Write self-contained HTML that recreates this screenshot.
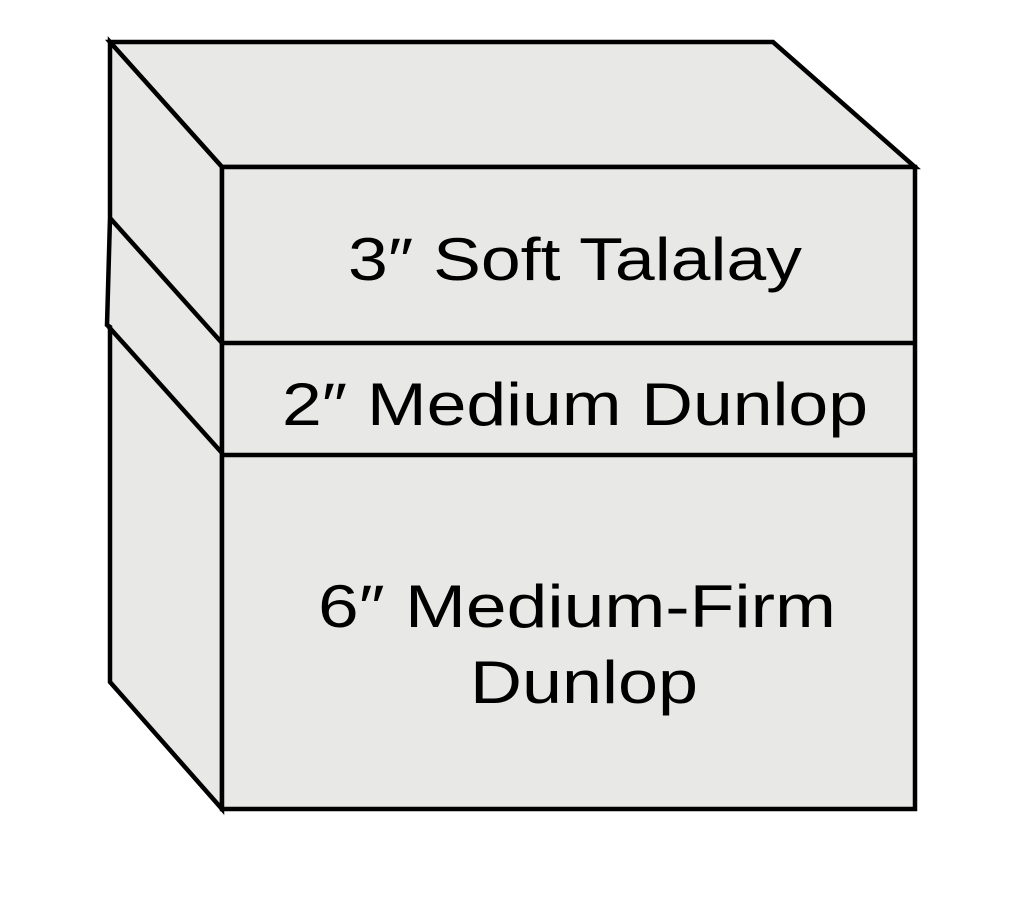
<!DOCTYPE html>
<html><head><style>html,body{margin:0;padding:0;background:#fff;}svg{display:block;}</style></head>
<body>
<svg width="1024" height="900" viewBox="0 0 1024 900" xmlns="http://www.w3.org/2000/svg">
<g fill="#e8e8e7" stroke="#000" stroke-width="4.5" stroke-linejoin="miter">
<polygon points="110,42 773,42 915,167 222,167"/>
<polygon points="110,42 222,167 222,809 110,682 110,327 107,325 110,218"/>
<rect x="222" y="167" width="693" height="642"/>
<line x1="222" y1="343" x2="915" y2="343"/>
<line x1="222" y1="455" x2="915" y2="455"/>
<line x1="110" y1="218" x2="222" y2="343"/>
<line x1="108" y1="326" x2="222" y2="453"/>
</g>
<g font-family="'Liberation Sans', sans-serif" font-size="60" fill="#000" lengthAdjust="spacingAndGlyphs">
<text x="348" y="280" textLength="454" lengthAdjust="spacingAndGlyphs">3″ Soft Talalay</text>
<text x="282" y="425" textLength="586" lengthAdjust="spacingAndGlyphs">2″ Medium Dunlop</text>
<text x="318" y="627" textLength="518" lengthAdjust="spacingAndGlyphs">6″ Medium-Firm</text>
<text x="470" y="703" textLength="228" lengthAdjust="spacingAndGlyphs">Dunlop</text>
</g>
</svg>
</body></html>
